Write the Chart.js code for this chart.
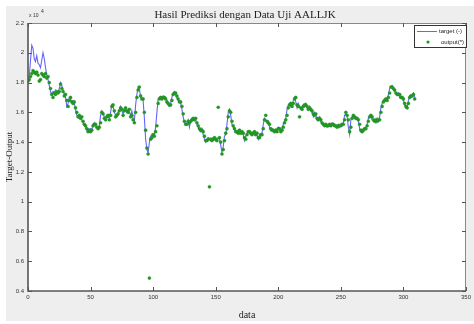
<!DOCTYPE html>
<html>
<head>
<meta charset="utf-8">
<script src="https://cdn.jsdelivr.net/npm/chart.js@4"></script>
<style>
html,body{margin:0;padding:0;background:#fff;}
canvas{display:block;}
</style>
</head>
<body>
<canvas id="c" width="474" height="324"></canvas>
<script>
// Values in units of 10^4 (as displayed on the axis)
const target = [
1.82,1.84,1.95,2.05,2.03,1.96,1.94,1.98,1.93,1.92,1.90,1.95,2.00,1.96,1.90,1.85,
1.82,1.78,1.74,1.72,1.74,1.73,1.75,1.74,1.73,1.76,1.80,1.78,1.75,1.72,
1.70,1.64,1.66,1.70,1.69,1.67,1.68,1.66,1.62,1.58,1.57,1.56,1.57,
1.55,1.53,1.51,1.50,1.48,1.49,1.48,1.49,1.48,1.52,1.53,1.51,1.50,1.49,
1.51,1.58,1.61,1.59,1.57,1.56,1.58,1.57,1.56,1.60,1.65,1.64,1.60,1.58,1.57,1.60,
1.62,1.64,1.61,1.59,1.63,1.62,1.60,1.62,1.60,1.58,1.61,1.56,1.54,
1.65,1.72,1.77,1.76,1.70,1.69,1.68,1.56,1.42,1.35,1.33,
1.40,1.44,1.45,1.44,1.45,1.50,1.60,
1.69,1.70,1.69,1.70,1.71,1.69,1.70,1.68,1.65,1.64,1.66,1.70,1.73,1.74,1.72,1.70,
1.68,1.67,1.66,1.62,1.57,1.53,1.52,1.53,1.55,1.50,1.55,1.56,1.55,1.56,1.55,1.52,
1.50,1.48,1.47,1.49,1.45,1.42,1.40,1.42,1.43,1.42,1.41,1.42,1.43,1.42,1.41,
1.42,1.43,1.42,1.38,1.33,1.37,1.44,1.45,1.52,1.60,1.62,1.58,1.52,1.50,1.48,
1.47,1.46,1.48,1.46,1.47,1.46,1.45,1.41,1.44,1.46,1.47,1.46,1.45,1.46,1.47,1.45,1.46,1.45,1.42,1.45,1.44,1.46,
1.52,1.56,1.55,1.53,1.54,1.50,1.48,1.49,1.47,1.48,1.47,1.49,1.50,1.48,1.47,1.49,1.52,1.54,1.56,
1.62,1.65,1.66,1.64,1.65,1.68,1.70,1.67,1.63,1.66,1.64,1.62,1.63,1.65,1.64,1.66,1.63,1.62,1.64,1.61,
1.60,1.57,1.60,1.58,1.55,1.56,1.57,1.54,1.52,1.51,1.52,1.51,1.50,1.52,1.51,1.52,1.53,1.51,1.52,1.50,
1.51,1.52,1.50,1.52,1.51,1.53,1.58,1.59,1.57,1.50,1.45,1.55,1.57,1.58,1.56,1.57,1.55,1.54,
1.49,1.47,1.48,1.49,1.48,1.50,1.52,1.56,1.57,1.58,1.55,1.54,1.55,1.53,1.56,1.54,1.57,1.63,1.66,
1.68,1.69,1.68,1.69,1.72,1.76,1.77,1.78,1.75,1.74,1.73,1.72,1.73,1.70,1.71,1.69,
1.68,1.65,1.63,1.64,1.68,1.71,1.70,1.72,1.73,1.70
];
const output = [
1.81,1.82,1.84,1.86,1.88,1.87,1.86,1.87,1.85,1.81,1.82,1.86,1.85,1.84,1.86,1.83,
1.84,1.80,1.76,1.72,1.70,1.73,1.72,1.74,1.73,1.74,1.79,1.76,1.74,1.71,
1.72,1.68,1.64,1.68,1.70,1.67,1.66,1.67,1.63,1.60,1.57,1.58,1.56,
1.57,1.54,1.52,1.51,1.49,1.47,1.48,1.47,1.48,1.51,1.52,1.52,1.50,1.49,
1.50,1.53,1.60,1.59,1.56,1.55,1.57,1.58,1.55,1.58,1.64,1.65,1.61,1.57,1.58,1.59,
1.61,1.63,1.62,1.58,1.61,1.63,1.61,1.60,1.62,1.57,1.58,1.55,1.53,
1.60,1.70,1.75,1.77,1.71,1.69,1.69,1.60,1.48,1.36,1.32,
0.487,1.42,1.43,1.45,1.44,1.47,1.51,
1.66,1.69,1.70,1.69,1.70,1.70,1.69,1.67,1.66,1.65,1.65,1.68,1.72,1.73,1.73,1.71,
1.69,1.67,1.67,1.64,1.59,1.54,1.52,1.52,1.54,1.53,1.54,1.55,1.56,1.55,1.56,1.53,
1.51,1.49,1.48,1.48,1.47,1.44,1.41,1.41,1.42,1.10,1.42,1.41,1.42,1.43,1.42,
1.41,1.634,1.43,1.40,1.32,1.35,1.41,1.46,1.49,1.57,1.61,1.60,1.54,1.51,1.49,
1.47,1.47,1.46,1.48,1.46,1.47,1.46,1.43,1.42,1.45,1.47,1.47,1.46,1.45,1.46,1.47,1.45,1.46,1.43,1.43,1.45,1.45,
1.49,1.55,1.58,1.54,1.53,1.52,1.49,1.48,1.48,1.47,1.48,1.47,1.49,1.49,1.47,1.48,1.50,1.53,1.55,
1.58,1.63,1.65,1.66,1.64,1.66,1.69,1.70,1.65,1.64,1.57,1.63,1.62,1.64,1.65,1.65,1.64,1.62,1.63,1.62,
1.61,1.59,1.58,1.59,1.56,1.55,1.56,1.55,1.53,1.52,1.51,1.52,1.51,1.51,1.52,1.51,1.52,1.52,1.51,1.51,
1.50,1.51,1.51,1.51,1.52,1.52,1.55,1.60,1.58,1.55,1.47,1.50,1.56,1.58,1.57,1.56,1.56,1.55,
1.52,1.48,1.47,1.48,1.49,1.49,1.51,1.54,1.57,1.58,1.57,1.55,1.54,1.55,1.54,1.55,1.55,1.60,1.64,
1.67,1.68,1.69,1.68,1.70,1.73,1.77,1.77,1.76,1.75,1.73,1.72,1.72,1.72,1.70,1.70,
1.69,1.66,1.64,1.63,1.66,1.70,1.71,1.71,1.72,1.69
];
const xTicks = [0,50,100,150,200,250,300,350];
const yTicks = [0.4,0.6,0.8,1,1.2,1.4,1.6,1.8,2,2.2];
const titleText = 'Hasil Prediksi dengan Data Uji AALLJK';
const xLabel = 'data';
const yLabel = 'Target-Output';
const legendLabels = ['target (-)', 'output(*)'];
const exponent = '4';

const toXY = arr => arr.map((v, i) => ({x: i, y: v}));

const LINE_COLOR = 'rgb(100,100,255)';
const PT_COLOR = 'rgb(34,150,34)';

const deco = {
  id: 'deco',
  beforeDraw(chart) {
    const {ctx, chartArea: a} = chart;
    ctx.save();
    ctx.fillStyle = '#ffffff';
    ctx.fillRect(0, 0, chart.width, chart.height);
    ctx.fillStyle = '#eeeeee';
    ctx.fillRect(6, 6, chart.width - 6, chart.height - 9);
    ctx.fillStyle = '#ffffff';
    ctx.fillRect(a.left, a.top, a.right - a.left, a.bottom - a.top);
    ctx.restore();
  },
  afterDraw(chart) {
    const {ctx, chartArea: a, scales} = chart;
    ctx.save();
    // box
    ctx.strokeStyle = '#888';
    ctx.lineWidth = 1;
    ctx.beginPath();
    ctx.moveTo(a.left, a.top + 0.5); ctx.lineTo(a.right - 0.5, a.top + 0.5); ctx.lineTo(a.right - 0.5, a.bottom);
    ctx.stroke();
    ctx.strokeStyle = '#555';
    ctx.lineWidth = 1.6;
    ctx.beginPath();
    ctx.moveTo(a.left, a.top); ctx.lineTo(a.left, a.bottom); ctx.lineTo(a.right, a.bottom);
    ctx.stroke();
    // inward ticks
    ctx.strokeStyle = '#555';
    ctx.lineWidth = 1;
    ctx.beginPath();
    xTicks.forEach(t => {
      const px = Math.round(scales.x.getPixelForValue(t)) + 0.5;
      ctx.moveTo(px, a.bottom); ctx.lineTo(px, a.bottom - 4);
      ctx.moveTo(px, a.top); ctx.lineTo(px, a.top + 4);
    });
    yTicks.forEach(t => {
      const py = Math.round(scales.y.getPixelForValue(t)) + 0.5;
      ctx.moveTo(a.left, py); ctx.lineTo(a.left + 4, py);
      ctx.moveTo(a.right, py); ctx.lineTo(a.right - 4, py);
    });
    ctx.stroke();
    // title
    ctx.fillStyle = '#222';
    ctx.font = '11px "Liberation Serif", "DejaVu Serif", serif';
    ctx.textAlign = 'center';
    ctx.textBaseline = 'middle';
    ctx.fillText(titleText, (a.left + a.right) / 2 - 2, 15);
    // exponent
    ctx.font = '5px "Liberation Sans", sans-serif';
    ctx.textAlign = 'left';
    ctx.fillStyle = '#333';
    ctx.fillText('x 10', a.left + 1, 16);
    ctx.fillText(exponent, a.left + 13, 12);
    // legend
    const lx = 414, ly = 25, lw = 52, lh = 22;
    ctx.fillStyle = '#fff';
    ctx.fillRect(lx, ly, lw, lh);
    ctx.strokeStyle = '#333';
    ctx.lineWidth = 1;
    ctx.strokeRect(lx + 0.5, ly + 0.5, lw, lh);
    ctx.strokeStyle = LINE_COLOR;
    ctx.beginPath();
    ctx.moveTo(lx + 3, ly + 6.5); ctx.lineTo(lx + 23, ly + 6.5);
    ctx.stroke();
    ctx.fillStyle = PT_COLOR;
    ctx.beginPath();
    ctx.arc(lx + 14, ly + 17, 1.6, 0, Math.PI * 2);
    ctx.fill();
    ctx.fillStyle = '#222';
    ctx.font = '6px "Liberation Sans", sans-serif';
    ctx.textBaseline = 'middle';
    ctx.fillText(legendLabels[0], lx + 25, ly + 6.5);
    ctx.fillText(legendLabels[1], lx + 27, ly + 17);
    ctx.restore();
  }
};

new Chart(document.getElementById('c'), {
  type: 'scatter',
  data: {
    datasets: [
      {
        label: legendLabels[1],
        data: toXY(output),
        showLine: false,
        pointRadius: 1.6,
        pointHoverRadius: 1.6,
        backgroundColor: PT_COLOR,
        borderColor: PT_COLOR,
        borderWidth: 0.3,
        order: 0
      },
      {
        label: legendLabels[0],
        data: toXY(target),
        showLine: true,
        borderColor: LINE_COLOR,
        borderWidth: 1.1,
        pointRadius: 0,
        tension: 0,
        order: 1
      }
    ]
  },
  options: {
    responsive: false,
    animation: false,
    devicePixelRatio: 1,
    layout: { autoPadding: false, padding: { top: 23, right: 4, left: 0, bottom: 0 } },
    plugins: { legend: { display: false }, tooltip: { enabled: false }, title: { display: false } },
    scales: {
      x: {
        type: 'linear', min: 0, max: 350,
        grid: { display: false, drawTicks: false, tickLength: 0 }, border: { display: false },
        afterBuildTicks: s => { s.ticks = xTicks.map(v => ({value: v})); },
        ticks: { color: '#333', font: { size: 6, family: '"Liberation Sans", sans-serif' }, padding: 3, maxRotation: 0, autoSkip: false },
        title: { display: true, text: xLabel, color: '#222', font: { size: 10, family: '"Liberation Serif", serif' }, padding: { top: 0, bottom: 3 } },
        afterFit: s => { s.height = 33; }
      },
      y: {
        type: 'linear', min: 0.4, max: 2.2,
        grid: { display: false, drawTicks: false, tickLength: 0 }, border: { display: false },
        afterBuildTicks: s => { s.ticks = yTicks.map(v => ({value: v})); },
        ticks: { color: '#333', font: { size: 6, family: '"Liberation Sans", sans-serif' }, padding: 4,
                 callback: v => String(Number(v.toFixed(1))) },
        title: { display: true, text: yLabel, color: '#222', font: { size: 9, family: '"Liberation Serif", serif' }, padding: { top: 4, bottom: 0 } },
        afterFit: s => { s.width = 28; }
      }
    }
  },
  plugins: [deco]
});
</script>
</body>
</html>
